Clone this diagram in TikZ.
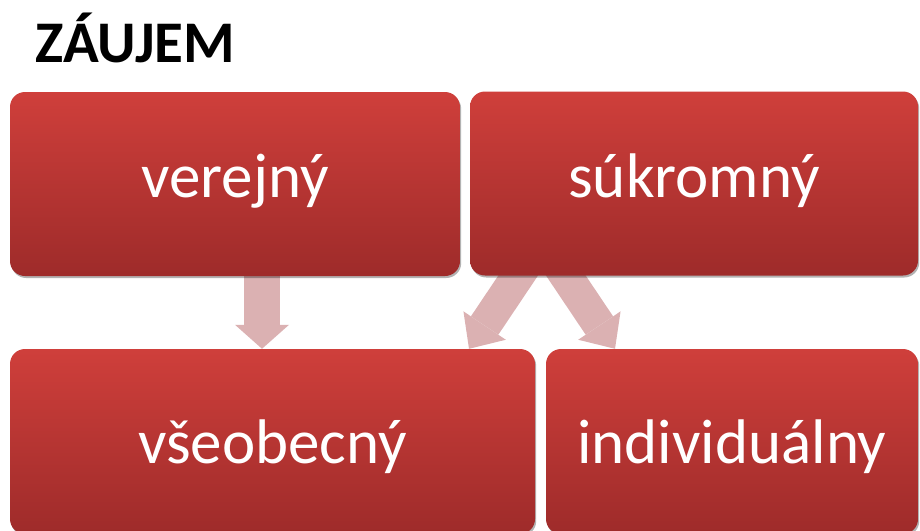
\documentclass[tikz,border=0pt]{standalone}
\usepackage{fontspec}
\setmainfont{Carlito}
\usetikzlibrary{arrows.meta,shadows,backgrounds}
\definecolor{boxtop}{RGB}{207,63,59}
\definecolor{boxbot}{RGB}{158,43,42}
\definecolor{arrowpink}{RGB}{219,177,178}
\begin{document}
\begin{tikzpicture}[x=1pt,y=-1pt,
  box/.style={rounded corners=15pt, top color=boxtop, bottom color=boxbot,
    draw=none, text=white, inner sep=0pt, text depth=0pt,
    font=\fontsize{63}{75}\selectfont,
    drop shadow={shadow xshift=1.2pt, shadow yshift=-2pt, opacity=0.3, fill=black}},
  upperbox/.style={box, minimum height=184pt, text height=27pt},
  lowerbox/.style={box, minimum height=185pt, text height=43pt},
  downarrow/.style={draw=arrowpink, line width=36pt,
    -{Triangle[width=54pt,length=24pt,line width=0pt]}},
  diagarrow/.style={draw=arrowpink, line width=33pt,
    -{Triangle[width=51pt,length=28pt,line width=0pt]}}]
\useasboundingbox (0,0) rectangle (920,530);
\node[anchor=base west, inner sep=0pt, font=\fontsize{59}{70}\selectfont\bfseries] (title) at (35,62) {ZÁUJEM};
\node[upperbox, minimum width=450pt] (verejny) at (235,184) {verejný};
\node[upperbox, minimum width=448pt] (sukromny) at (694,183.5) {súkromný};
\node[lowerbox, minimum width=525pt] (vseobecny) at (272.5,441.5) {všeobecný};
\node[lowerbox, minimum width=372pt] (individualny) at (732,441.5) {individuálny};
\begin{scope}[on background layer]
\coordinate (s1) at (262,240);
\coordinate (s2) at (542,240);
\draw[downarrow] (s1) -- (262,0 |- vseobecny.north);
\draw[diagarrow] (s2) -- (469,0 |- vseobecny.north);
\draw[diagarrow] (s2) -- (615,0 |- individualny.north);
\end{scope}
\end{tikzpicture}
\end{document}
